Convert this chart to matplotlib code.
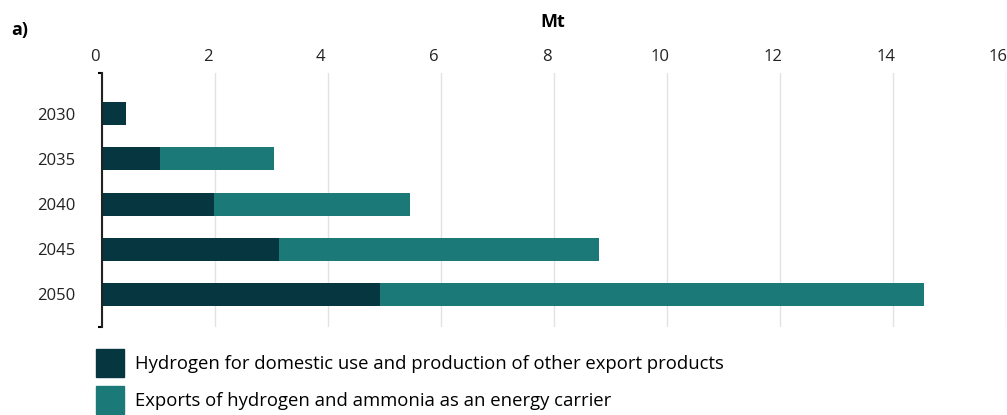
import numpy as np
import matplotlib.pyplot as plt
import matplotlib.transforms as mtransforms
from matplotlib.patches import Patch

plt.rcParams['font.family'] = ['Open Sans', 'DejaVu Sans']

years = ['2030', '2035', '2040', '2045', '2050']
domestic = [0.42, 1.03, 1.98, 3.13, 4.92]
exports = [0.0, 2.01, 3.47, 5.68, 9.63]
labels = ['Hydrogen for domestic use and production of other export products',
          'Exports of hydrogen and ammonia as an energy carrier']
c_dom = '#063640'
c_exp = '#1b7a78'

fig = plt.figure(figsize=(10.07, 4.15), dpi=100)
ax = fig.add_axes([102 / 1007, 1 - 327 / 415, 903.5 / 1007, 254 / 415])

y = np.arange(len(years))
ax.barh(y, domestic, height=0.51, color=c_dom)
ax.barh(y, exports, height=0.51, left=domestic, color=c_exp)

ax.set_xlim(0, 16)
ax.set_ylim(4.72, -0.9)
ax.set_xticks(range(0, 17, 2))
ax.set_yticks(y)
ax.set_yticklabels(years)
ax.set_yticks([-0.9, 4.72], minor=True)

ax.xaxis.tick_top()
ax.tick_params(axis='x', length=0, pad=6, labelsize=12, colors='#222222')
ax.tick_params(axis='y', which='major', length=0, pad=19, labelsize=12, colors='#222222')
ax.tick_params(axis='y', which='minor', length=3, width=1.5, direction='out')
offset = mtransforms.ScaledTranslation(-7 / 100, 0, fig.dpi_scale_trans)
for lbl in ax.get_xticklabels():
    lbl.set_transform(lbl.get_transform() + offset)

ax.grid(axis='x', color='#e2e2e2', linewidth=1)
ax.set_axisbelow(True)
for s in ['top', 'right', 'bottom']:
    ax.spines[s].set_visible(False)
ax.spines['left'].set_linewidth(1.5)
ax.spines['left'].set_color('#222222')

fig.text(553 / 1007, 1 - 22 / 415, 'Mt', fontsize=13, fontweight='bold', ha='center', va='center')
fig.text(11 / 1007, 1 - 30 / 415, 'a)', fontsize=13, fontweight='bold', ha='left', va='center')

handles = [Patch(color=c_dom), Patch(color=c_exp)]
fig.legend(handles, labels, loc='upper left', bbox_to_anchor=(89 / 1007, 1 - 342 / 415),
           frameon=False, fontsize=13.3, handlelength=1.52, handleheight=1.94,
           handletextpad=0.55, labelspacing=0.5, borderaxespad=0)

fig.savefig('out.png', dpi=100)
